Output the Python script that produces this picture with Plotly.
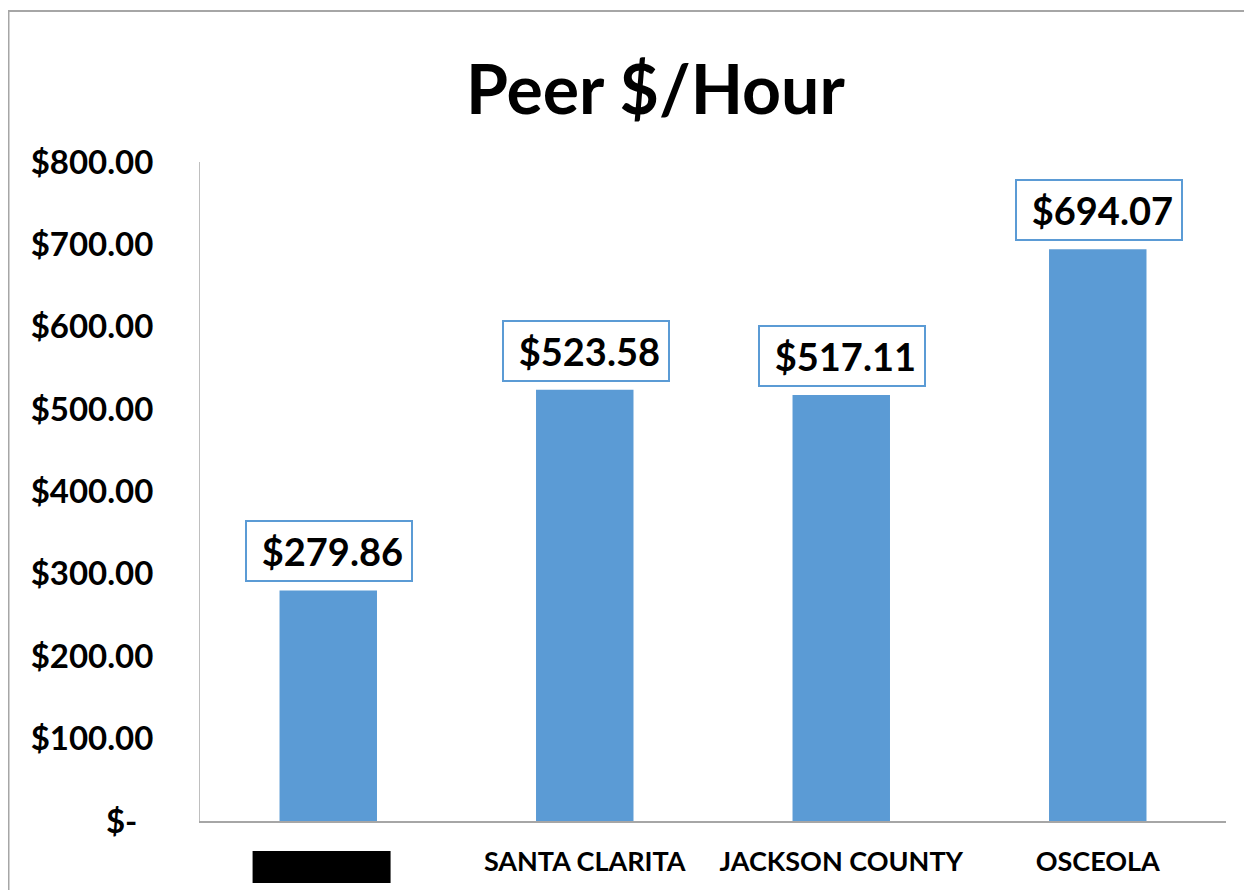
import plotly.graph_objects as go

categories = ["[REDACTED]", "SANTA CLARITA", "JACKSON COUNTY", "OSCEOLA"]
tick_labels = ["", "SANTA CLARITA", "JACKSON COUNTY", "OSCEOLA"]
values = [279.86, 523.58, 517.11, 694.07]
y_ticks = [0, 100, 200, 300, 400, 500, 600, 700, 800]
y_tick_text = ["$-\u00a0\u00a0"] + [f"${v:,.2f}" for v in y_ticks[1:]]

BLUE = "#5B9BD5"
FONT = "Lato, Carlito, Calibri, sans-serif"

# page is rendered with an 8px body margin; figure is sized to fill the rest
fig = go.Figure()
fig.add_trace(go.Bar(
    x=categories, y=values, marker=dict(color=BLUE, line=dict(width=0)),
    hoverinfo="skip",
))

annotations = []
for c, v in zip(categories, values):
    annotations.append(dict(
        x=c, y=v, xref="x", yref="y", text=f"<b>${v:,.2f}</b>",
        showarrow=False, yanchor="bottom", yshift=8, xshift=1,
        font=dict(family=FONT, size=38, color="black"),
        bordercolor=BLUE, borderwidth=2, borderpad=8, bgcolor="white",
        width=148, height=42, align="right",
    ))
annotations.append(dict(
    x=(655 - 200) / 1026, y=(821 - 88) / 659, xref="paper", yref="paper",
    text="<b>Peer $/Hour</b>", showarrow=False, xanchor="center", yanchor="middle",
    font=dict(family=FONT, size=68, color="black"),
))

fig.update_layout(
    width=1244, height=882,
    margin=dict(l=192, r=26, t=154, b=69),
    paper_bgcolor="white", plot_bgcolor="white",
    showlegend=False, bargap=0.62,
    annotations=annotations,
    font=dict(family=FONT, color="black"),
    shapes=[
        dict(type="rect", xref="paper", yref="paper",
             x0=(8.5 - 200) / 1026, x1=1.1, y0=-0.3, y1=(821 - 11) / 659,
             line=dict(color="#A6A6A6", width=2), fillcolor="rgba(0,0,0,0)", layer="below"),
        dict(type="rect", xref="x", yref="paper",
             x0=-0.295, x1=0.243, y0=(821 - 883) / 659, y1=(821 - 851) / 659,
             line=dict(width=0), fillcolor="black"),
    ],
)
fig.update_xaxes(
    tickvals=categories, ticktext=[f"<b>{t}</b>" for t in tick_labels],
    tickfont=dict(family=FONT, size=27, color="black"),
    showline=True, linecolor="#A6A6A6", linewidth=2, ticks="", showgrid=False,
    ticklabelstandoff=16, range=[-0.5, 3.5],
)
fig.update_yaxes(
    range=[0, 800], tickvals=y_ticks, ticktext=[f"<b>{t}</b>" for t in y_tick_text],
    tickfont=dict(family=FONT, size=33, color="black"),
    showline=True, linecolor="#BFBFBF", linewidth=1, ticks="", showgrid=False,
    ticklabelstandoff=39, zeroline=False,
)

fig.write_html("out.html")
